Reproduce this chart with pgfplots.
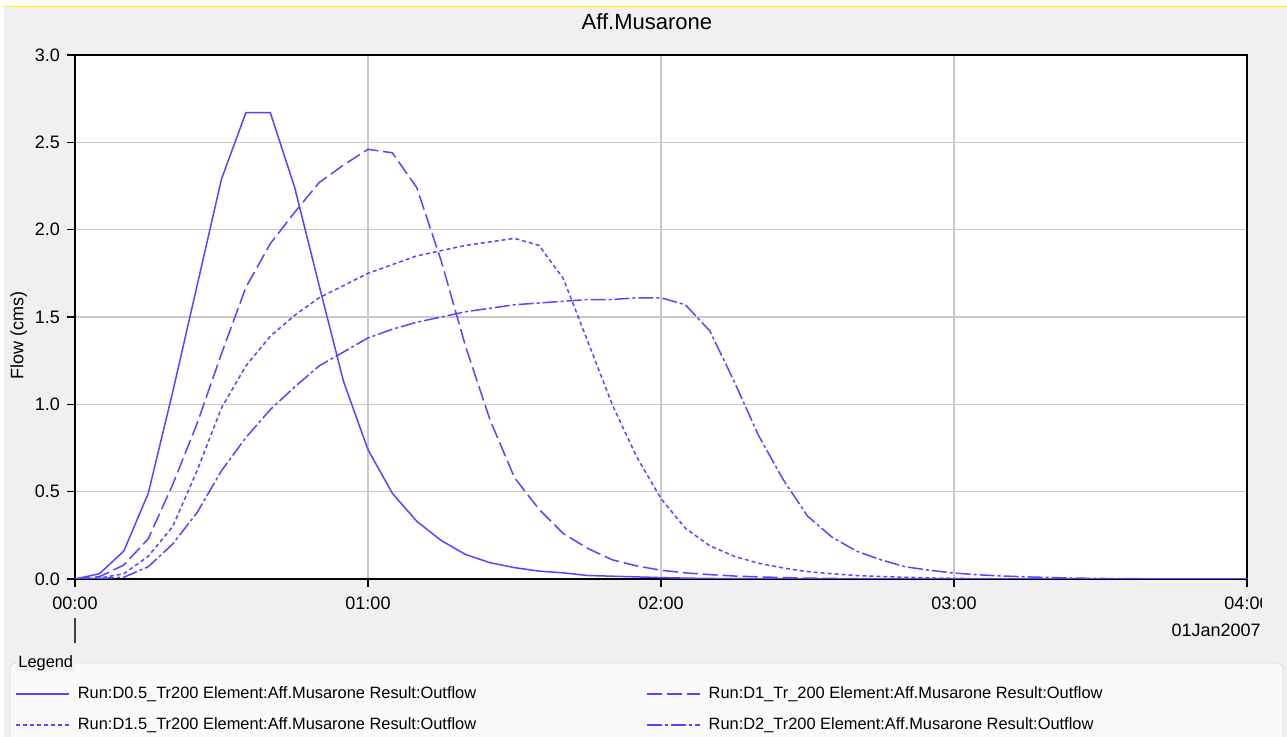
\documentclass[border=0pt]{standalone}
\usepackage{pgfplots}
\pgfplotsset{compat=1.18}
\usepackage{fontspec}
\setmainfont{Liberation Sans}

\definecolor{panel}{HTML}{F0F0F0}
\definecolor{flow}{RGB}{85,70,255}
\definecolor{gridc}{HTML}{C8C8C8}

\begin{document}
\begin{tikzpicture}[x=0.5pt,y=0.5pt]
% page in pixel units, y counted from the bottom
\useasboundingbox (0,0) rectangle (1287,737);
\fill[white] (0,0) rectangle (1287,737);
\fill[panel] (4,0) rectangle (1287,730);
\draw[yellow, line width=0.5pt] (4,730) -- (1287,730);
% legend group box
\begin{scope}
\clip (0,0) rectangle (1287,737);
\draw[draw=black!14, fill=black!2, rounded corners=3pt] (10,-10) rectangle (1283,74);
\end{scope}
\node[fill=panel, inner xsep=1pt, inner ysep=0pt, anchor=west,
      font=\fontsize{8.2}{10}\selectfont] at (16,74) {Legend};

\begin{axis}[
  at={(37.5pt,79pt)}, anchor=south west,
  scale only axis, width=586pt, height=262pt,
  xmin=0, xmax=240, ymin=0, ymax=3,
  xtick={0,60,120,180,240},
  xticklabels={00:00,01:00,02:00,03:00,04:00},
  ytick={0,0.5,1,1.5,2,2.5,3},
  yticklabels={0.0,0.5,1.0,1.5,2.0,2.5,3.0},
  xtick pos=bottom, ytick pos=left,
  tick align=outside, major tick length=4pt,
  tick style={black, line width=0.6pt},
  grid=major, major grid style={gridc, line width=0.7pt},
  axis line style={black, line width=0.9pt},
  axis background/.style={fill=white},
  ticklabel style={font=\fontsize{9}{11}\selectfont},
  xticklabel style={yshift=-1.5pt},
  title={Aff.Musarone},
  title style={at={(axis description cs:0.488,1.040)}, anchor=center,
               font=\fontsize{11}{13}\selectfont},
  ylabel={Flow (cms)},
  ylabel style={at={(axis description cs:-0.048,0.464)}, anchor=center,
                font=\fontsize{9}{11}\selectfont},
  legend columns=2,
  legend cell align=left,
  legend image code/.code={\draw[#1, flow, line width=0.75pt] (0pt,0pt) -- (26.5pt,0pt);},
  legend style={at={(axis description cs:-0.0512,-0.2044)}, anchor=north west,
    draw=none, fill=none, inner sep=0pt,
    font=\fontsize{8.2}{10}\selectfont,
    nodes={inner sep=0pt, text height=6.2pt, text depth=1.5pt},
    /tikz/every odd column/.append style={column sep=4pt},
    /tikz/every even column/.append style={column sep=85pt},
    /tikz/row sep=7.8pt},
]
\addplot[flow, line width=0.75pt, solid, no marks] coordinates {
(0,0) (5,0.03) (10,0.16) (15,0.49) (20,1.07) (25,1.68) (30,2.29) (35,2.67)
(40,2.67) (45,2.24) (50,1.68) (55,1.13) (60,0.74) (65,0.49) (70,0.33)
(75,0.22) (80,0.14) (85,0.093) (90,0.065) (95,0.045) (100,0.035) (105,0.02)
(110,0.016) (115,0.012) (120,0.008) (125,0.005) (130,0.003) (135,0.002)
(140,0.001) (145,0) (240,0)
};
\addlegendentry{Run:D0.5\_Tr200 Element:Aff.Musarone Result:Outflow}
\addplot[flow, line width=0.75pt, no marks, dash pattern=on 7.5pt off 2.5pt] coordinates {
(0,0) (5,0.013) (10,0.08) (15,0.23) (20,0.54) (25,0.89) (30,1.29) (35,1.67)
(40,1.92) (45,2.10) (50,2.27) (55,2.37) (60,2.46) (65,2.44) (70,2.24)
(75,1.82) (80,1.33) (85,0.91) (90,0.58) (95,0.40) (100,0.26) (105,0.175)
(110,0.11) (115,0.075) (120,0.05) (125,0.035) (130,0.025) (135,0.017)
(140,0.012) (145,0.008) (150,0.005) (155,0.003) (160,0.002) (165,0.001)
(170,0) (240,0)
};
\addlegendentry{Run:D1\_Tr\_200 Element:Aff.Musarone Result:Outflow}
\addplot[flow, line width=0.75pt, no marks, dash pattern=on 2pt off 1.5pt] coordinates {
(0,0) (5,0.005) (10,0.03) (15,0.13) (20,0.30) (25,0.62) (30,0.98) (35,1.22)
(40,1.39) (45,1.51) (50,1.61) (55,1.68) (60,1.75) (65,1.80) (70,1.85)
(75,1.88) (80,1.91) (85,1.93) (90,1.95) (95,1.91) (100,1.72) (105,1.36)
(110,1.00) (115,0.70) (120,0.46) (125,0.29) (130,0.19) (135,0.13) (140,0.09)
(145,0.063) (150,0.042) (155,0.03) (160,0.02) (165,0.014) (170,0.01)
(175,0.006) (180,0.004) (185,0.002) (190,0.001) (195,0) (240,0)
};
\addlegendentry{Run:D1.5\_Tr200 Element:Aff.Musarone Result:Outflow}
\addplot[flow, line width=0.75pt, no marks, dash pattern=on 7.5pt off 1.5pt on 1.5pt off 1.5pt] coordinates {
(0,0) (5,0.003) (10,0.01) (15,0.07) (20,0.20) (25,0.38) (30,0.62) (35,0.81)
(40,0.97) (45,1.10) (50,1.22) (55,1.30) (60,1.38) (65,1.43) (70,1.47)
(75,1.50) (80,1.53) (85,1.55) (90,1.57) (95,1.58) (100,1.59) (105,1.60)
(110,1.60) (115,1.61) (120,1.61) (125,1.57) (130,1.42) (135,1.13) (140,0.82)
(145,0.57) (150,0.36) (155,0.24) (160,0.16) (165,0.11) (170,0.07) (175,0.05)
(180,0.034) (185,0.024) (190,0.017) (195,0.012) (200,0.008) (205,0.005)
(210,0.003) (215,0.002) (220,0.001) (225,0) (240,0)
};
\addlegendentry{Run:D2\_Tr200 Element:Aff.Musarone Result:Outflow}
\end{axis}

% the last time label is cut by the panel edge
\fill[panel] (1262,120) rectangle (1287,146);
% date axis below the time labels
\draw[black!75, line width=0.6pt] (75,119) -- (75,94);
\node[anchor=east, inner sep=0pt, font=\fontsize{9}{11}\selectfont] at (1261,107) {01Jan2007};
\end{tikzpicture}
\end{document}
